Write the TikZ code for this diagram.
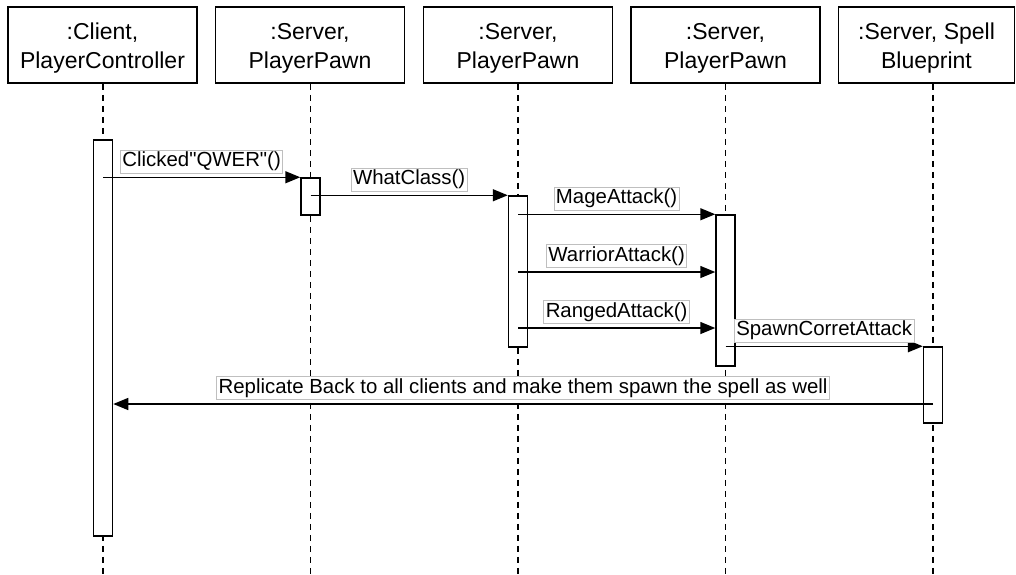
\documentclass[tikz,border=0pt]{standalone}
\usepackage{fontspec}
\setmainfont{Liberation Sans}[Ligatures=TeXOff]
\usetikzlibrary{arrows.meta, positioning, calc, backgrounds}

\begin{document}
\begin{tikzpicture}[x=1pt, y=-1pt,
    head/.style={draw, line width=1.5pt, minimum width=189pt, minimum height=76pt, inner sep=0pt, align=center, font=\fontsize{23}{29}\selectfont, text height=51pt, text depth=5pt},
    life/.style={line width=1.4pt, dash pattern=on 6pt off 5pt},
    act/.style={draw, fill=white, line width=1.5pt, minimum width=19pt, inner sep=0pt},
    msg/.style={line width=1.5pt, -{Triangle[length=15pt, width=12pt]}},
    lbl/.style={draw=gray!50, fill=white, line width=0.7pt, font=\fontsize{20.4}{24}\selectfont, text height=15pt, text depth=4pt, inner sep=2pt, above=4pt}]
          \useasboundingbox (0,0) rectangle (1016,574);
          \coordinate (floor) at (0,574);
          \node[head] (client) at (102.5,45) {:Client,\\PlayerController};
          \node[head] (pawnA) at (310,45) {:Server,\\PlayerPawn};
          \node[head] (pawnB) at (518,45) {:Server,\\PlayerPawn};
          \node[head] (pawnC) at (725.5,45) {:Server,\\PlayerPawn};
          \node[head, minimum width=176pt] (spell) at (926.5,45) {:Server, Spell\\Blueprint};

          \node[act, minimum height=396pt] (cA) at (103,338) {};
          \node[act, minimum height=37pt] (pA) at (310.5,196.5) {};
          \node[act, minimum height=151pt] (pB) at (518,271.5) {};
          \node[act, minimum height=151pt] (pC) at (725.5,290.5) {};
          \node[act, minimum height=76pt] (sp) at (933,385) {};

          \begin{scope}[on background layer]
            \foreach \n in {cA, pA, pB, pC} \draw[life] (\n |- client.south) -- (\n |- floor);
            \draw[life] (sp |- spell.south) -- (sp |- floor);
          \end{scope}

          \coordinate (warrior) at (0,272);
          \coordinate (ranged) at (0,328);
          \coordinate (replicate) at (0,404);
          \draw[msg] (cA.center |- pA.north) -- (pA.north west) node[midway, lbl] {Clicked"QWER"()};
          \draw[msg] (pA.center |- pB.north) -- (pB.north west) node[midway, lbl] {WhatClass()};
          \draw[msg] (pB.center |- pC.north) -- (pC.north west) node[midway, lbl] {MageAttack()};
          \draw[msg] (pB.center |- warrior) -- (pC.west |- warrior) node[midway, lbl] {WarriorAttack()};
          \draw[msg] (pB.center |- ranged) -- (pC.west |- ranged) node[midway, lbl] {RangedAttack()};
          \draw[msg] (pC.center |- sp.north) -- (sp.north west) node[midway, lbl] {SpawnCorretAttack};
          \draw[msg] (sp.center |- replicate) -- (cA.east |- replicate) node[midway, lbl] {Replicate Back to all clients and make them spawn the spell as well};
        \end{tikzpicture}
\end{document}
